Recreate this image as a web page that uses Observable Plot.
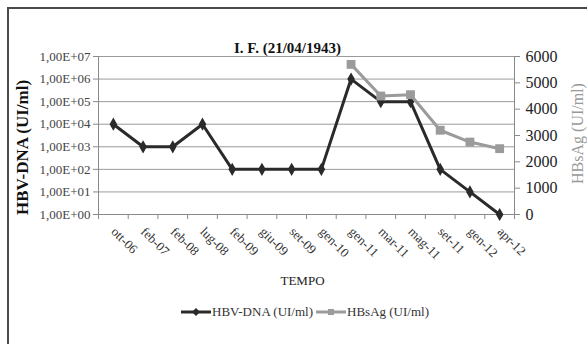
<!DOCTYPE html>
<html><head><meta charset="utf-8">
<script src="https://cdn.jsdelivr.net/npm/d3@7"></script>
<script src="https://cdn.jsdelivr.net/npm/@observablehq/plot@0.6"></script>
<style>
html,body{margin:0;padding:0;width:587px;height:344px;overflow:hidden;background:#fff;font-family:serif;}
#frame{position:absolute;left:7px;top:7px;width:700px;height:500px;border-top:2px solid #4a4a4a;border-left:2px solid #4a4a4a;}
#chart{position:absolute;left:0;top:0;}
#chart svg, #chart svg text{font-family:serif;}
#legend{position:absolute;left:0;width:610px;top:304px;display:flex;justify-content:center;align-items:center;font-size:13px;color:#333;gap:3px;font-family:serif;}
#legend span{display:inline-flex;align-items:center;gap:1px;}
</style></head>
<body>
<div id="frame"></div>
<div id="chart"></div>
<div id="legend"></div>
<script>
const categories = ["ott-06","feb-07","feb-08","lug-08","feb-09","giu-09","set-09","gen-10","gen-11","mar-11","mag-11","set-11","gen-12","apr-12"];
const hbvDna = [1e4,1e3,1e3,1e4,1e2,1e2,1e2,1e2,1e6,1e5,1e5,1e2,1e1,1e0];
const hbsAgCategories = ["gen-11","mar-11","mag-11","set-11","gen-12","apr-12"];
const hbsAg = [5700,4500,4550,3200,2750,2500];
const leftTicks = [1e0,1e1,1e2,1e3,1e4,1e5,1e6,1e7];
const rightTicks = [0,1000,2000,3000,4000,5000,6000];
const rightMax = 6000;
const title = "I. F. (21/04/1943)";
const xLabel = "TEMPO";
const leftLabel = "HBV-DNA (UI/ml)";
const rightLabel = "HBsAg (UI/ml)";
const seriesNames = ["HBV-DNA (UI/ml)", "HBsAg (UI/ml)"];

const FONT = "serif";
// y scale in decades (log10 of HBV-DNA); secondary axis mapped linearly onto it
const decades = Math.log10(leftTicks[leftTicks.length - 1]);
const toPrimary = v => v / rightMax * decades;
const fromPrimary = p => p * rightMax / decades;

const dnaData = categories.map((c, i) => ({i, y: Math.log10(hbvDna[i])}));
const hbsData = hbsAgCategories.map((c, k) => ({i: categories.indexOf(c), y: toPrimary(hbsAg[k])}));

const fmtE = d => "1,00E+" + String(Math.round(d)).padStart(2, "0");

const plot = Plot.plot({
  width: 587, height: 300,
  marginLeft: 98, marginRight: 73, marginTop: 56, marginBottom: 86,
  style: {fontFamily: FONT, background: "transparent"},
  x: {type: "linear", domain: [-0.5, categories.length - 0.5], axis: null},
  y: {type: "linear", domain: [0, decades], axis: null},
  marks: [
    Plot.gridY(leftTicks.map(Math.log10), {stroke: "#9a9a9a", strokeOpacity: 1, strokeWidth: 1}),
    Plot.ruleX([-0.5, categories.length - 0.5], {stroke: "#8a8a8a"}),
    Plot.ruleY([0], {stroke: "#8a8a8a"}),
    Plot.axisY({anchor: "left", ticks: leftTicks.map(Math.log10), tickFormat: fmtE, tickSize: 5, tickPadding: 3, fontSize: 13, stroke: "#8a8a8a", fill: "#444", label: null}),
    Plot.axisY({anchor: "right", ticks: rightTicks.map(toPrimary), tickFormat: p => String(Math.round(fromPrimary(p))), tickSize: 5, tickPadding: 6, fontSize: 16, stroke: "#8a8a8a", fill: "#222", label: null}),
    Plot.axisX({ticks: d3.range(categories.length + 1).map(i => i - 0.5), tickFormat: () => "", tickSize: 5, stroke: "#8a8a8a", label: null}),
    Plot.axisX({ticks: d3.range(categories.length), tickFormat: i => categories[i], tickSize: 0, tickPadding: 15, tickRotate: 45, fontSize: 13, fill: "#333", label: null}),
    Plot.line(dnaData, {x: "i", y: "y", stroke: "#2a2a2a", strokeWidth: 3}),
    Plot.dot(dnaData, {x: "i", y: "y", symbol: "diamond", r: 4, fill: "#2a2a2a"}),
    Plot.line(hbsData, {x: "i", y: "y", stroke: "#9b9b9b", strokeWidth: 3}),
    Plot.dot(hbsData, {x: "i", y: "y", symbol: "square", r: 5, fill: "#9b9b9b"}),
    Plot.text([title], {frameAnchor: "top", dx: -19, dy: -14, fontSize: 15, fontWeight: "bold", fill: "#111"}),
    Plot.text([xLabel], {frameAnchor: "bottom", dx: -4, dy: 70, fontSize: 13, fill: "#222"}),
    Plot.text([leftLabel], {frameAnchor: "left", textAnchor: "middle", dx: -76, dy: 12, rotate: -90, fontSize: 17, fontWeight: "bold", fill: "#111"}),
    Plot.text([rightLabel], {frameAnchor: "right", textAnchor: "middle", dx: 63, dy: -2, rotate: -90, fontSize: 16, fill: "#999"})
  ]
});
document.getElementById("chart").appendChild(plot);

// legend
const legend = document.getElementById("legend");
const swatch = (color, shape) => {
  const ns = "http://www.w3.org/2000/svg";
  const s = document.createElementNS(ns, "svg");
  s.setAttribute("width", 30); s.setAttribute("height", 10);
  const l = document.createElementNS(ns, "line");
  l.setAttribute("x1", 0); l.setAttribute("x2", 30); l.setAttribute("y1", 5); l.setAttribute("y2", 5);
  l.setAttribute("stroke", color); l.setAttribute("stroke-width", 3);
  s.appendChild(l);
  const m = document.createElementNS(ns, "path");
  m.setAttribute("d", shape === "diamond" ? "M15,1L19,5L15,9L11,5Z" : "M12,2H18V8H12Z");
  m.setAttribute("fill", color);
  s.appendChild(m);
  return s;
};
[["#2a2a2a", "diamond"], ["#9b9b9b", "square"]].forEach(([c, sh], k) => {
  const span = document.createElement("span");
  span.appendChild(swatch(c, sh));
  const t = document.createElement("span");
  t.textContent = seriesNames[k];
  span.appendChild(t);
  legend.appendChild(span);
});
</script>
</body></html>
